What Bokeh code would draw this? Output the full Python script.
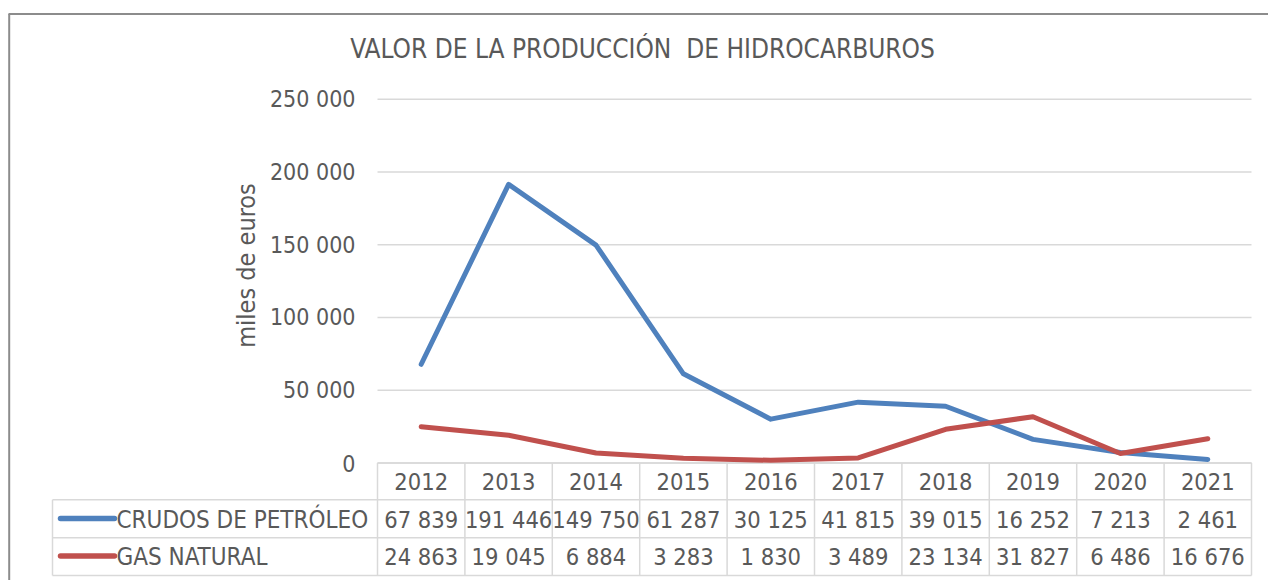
from bokeh.plotting import figure
from bokeh.models import Range1d
from bokeh.core.properties import value
from bokeh.embed import file_html
from bokeh.resources import INLINE

# ---------------- data ----------------
years = ["2012", "2013", "2014", "2015", "2016", "2017", "2018", "2019", "2020", "2021"]
crudos = [67839, 191446, 149750, 61287, 30125, 41815, 39015, 16252, 7213, 2461]
gas = [24863, 19045, 6884, 3283, 1830, 3489, 23134, 31827, 6486, 16676]
series_names = ["CRUDOS DE PETRÓLEO", "GAS NATURAL"]
y_ticks = [0, 50000, 100000, 150000, 200000, 250000]
title_text = "VALOR DE LA PRODUCCIÓN\u00a0 DE HIDROCARBUROS"
y_label = "miles de euros"

# ---------------- layout constants (page pixels) ----------------
W, H = 1268, 580
PX0, PY0 = 0, 0
COL_L, COL_W = 377.0, 87.4      # first column left edge, column width
Y_ZERO, Y_TOP = 462.5, 98.7     # pixel of value 0 and 250 000
YMAX = 250000
ppu = (Y_ZERO - Y_TOP) / YMAX   # pixels per unit

FONT = value("DejaVu Sans Condensed")
TXT = "#595959"
GRID = "#d9d9d9"
BLUE = "#4f81bd"
RED = "#c0504d"

x_start = (PX0 - COL_L) / COL_W
x_end = (PX0 + W - COL_L) / COL_W
y_start = -(PY0 + H - Y_ZERO) / ppu
y_end = (Y_ZERO - PY0) / ppu

p = figure(width=W, height=H, output_backend="svg", toolbar_location=None,
           x_range=Range1d(x_start, x_end), y_range=Range1d(y_start, y_end),
           x_axis_type=None, y_axis_type=None, min_border=0,
           background_fill_color="white", border_fill_color="white")
p.outline_line_color = None
p.grid.visible = False
# page-pixel helper ranges for layout of the table and texts
p.extra_x_ranges = {"px": Range1d(PX0, PX0 + W)}
p.extra_y_ranges = {"py": Range1d(PY0 + H, PY0)}

n = len(years)
xc = [i + 0.5 for i in range(n)]
def fmt(v):
    return f"{v:,}".replace(",", " ")

# chart border (left + top)
p.segment(x0=[8.7, 8], y0=[13.5, 13.5], x1=[8.7, PX0 + W], y1=[PY0 + H, 13.5],
          line_color="#8c8c8c", line_width=2, x_range_name="px", y_range_name="py")

# title
p.text(x=[642], y=[48], text=[title_text], text_font=FONT, text_font_size=value("26px"),
       text_color=TXT, text_align="center", text_baseline="middle",
       x_range_name="px", y_range_name="py")

# gridlines
p.segment(x0=[0] * len(y_ticks), y0=y_ticks, x1=[n] * len(y_ticks), y1=y_ticks,
          line_color=GRID, line_width=1.5)

# y tick labels
p.text(x=[355] * len(y_ticks), y=[Y_ZERO - t * ppu for t in y_ticks],
       text=[fmt(t) for t in y_ticks], text_font=FONT, text_font_size=value("23px"),
       text_color=TXT, text_align="right", text_baseline="middle",
       x_range_name="px", y_range_name="py")

# y axis label
p.text(x=[246], y=[265], text=[y_label], angle=1.5708, text_font=FONT,
       text_font_size=value("25px"), text_color=TXT, text_align="center",
       text_baseline="middle", x_range_name="px", y_range_name="py")

# data table
r_top, r1, r2, r_bot = Y_ZERO, 499.3, 537.3, 575.0
tbl_left = 52.0
col_edges = [COL_L + COL_W * i for i in range(n + 1)]
hx0 = [COL_L, tbl_left, tbl_left, tbl_left]
hy = [r_top, r1, r2, r_bot]
hx1 = [col_edges[-1]] * 4
p.segment(x0=hx0, y0=hy, x1=hx1, y1=hy, line_color=GRID, line_width=1.5,
          x_range_name="px", y_range_name="py")
vx = [tbl_left] + col_edges
vy0 = [r1] + [r_top] * len(col_edges)
p.segment(x0=vx, y0=vy0, x1=vx, y1=[r_bot] * len(vx), line_color=GRID, line_width=1.5,
          x_range_name="px", y_range_name="py")

col_centers_px = [COL_L + COL_W * (i + 0.5) for i in range(n)]
p.text(x=col_centers_px, y=[481] * n, text=years, text_font=FONT,
       text_font_size=value("23.5px"), text_color=TXT, text_align="center",
       text_baseline="middle", x_range_name="px", y_range_name="py")
row_y = [519, 556.5]
for vals, ry in zip([crudos, gas], row_y):
    p.text(x=col_centers_px, y=[ry] * n, text=[fmt(v) for v in vals], text_font=FONT,
           text_font_size=value("23.5px"), text_color=TXT, text_align="center",
           text_baseline="middle", x_range_name="px", y_range_name="py")

# legend keys in table
for name, col, ry in zip(series_names, [BLUE, RED], row_y):
    p.line(x=[60, 114], y=[ry - 1, ry - 1], line_color=col, line_width=5.5,
           line_cap="round", x_range_name="px", y_range_name="py")
    p.text(x=[116], y=[ry], text=[name], text_font=FONT, text_font_size=value("24px"),
           text_color=TXT, text_align="left", text_baseline="middle",
           x_range_name="px", y_range_name="py")

# data series
p.line(x=xc, y=crudos, line_color=BLUE, line_width=5, line_cap="round", line_join="round")
p.line(x=xc, y=gas, line_color=RED, line_width=5, line_cap="round", line_join="round")

open("out.html", "w").write(file_html(p, INLINE))
